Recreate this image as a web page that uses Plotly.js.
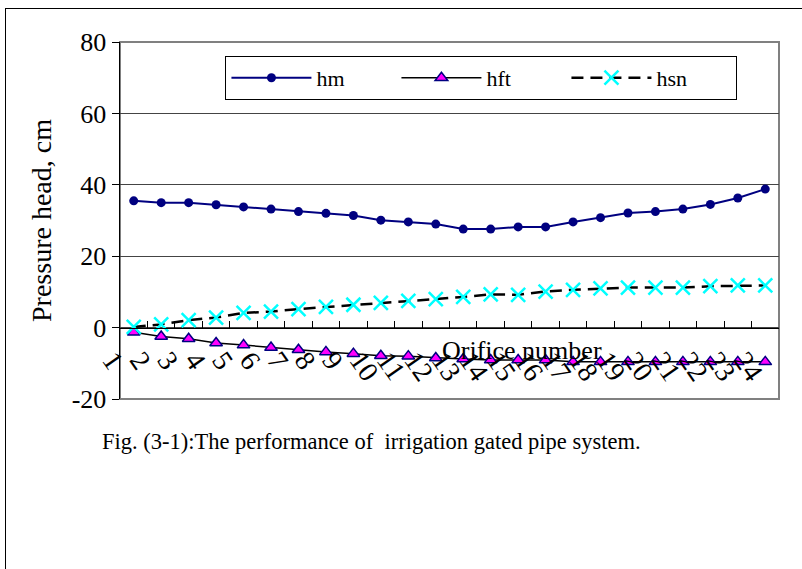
<!DOCTYPE html>
<html>
<head>
<meta charset="utf-8">
<script src="https://cdn.plot.ly/plotly-3.0.1.min.js"></script>
<style>
  html, body { margin: 0; padding: 0; background: #fff; }
  #wrap { position: relative; width: 802px; height: 569px; overflow: hidden; }
  #chart { position: absolute; left: 0; top: 0; width: 802px; height: 569px; }
  #frame { position: absolute; left: 5px; top: 8px; width: 900px; height: 700px;
           border-left: 1.5px solid #000; border-top: 1.5px solid #000; pointer-events: none; }
</style>
</head>
<body>
<div id="wrap">
  <div id="chart"></div>
  <div id="frame"></div>
</div>
<script>
// Orifice numbers (categories)
const orifices = ["1","2","3","4","5","6","7","8","9","10","11","12",
                  "13","14","15","16","17","18","19","20","21","22","23","24"];
// Pressure heads, cm
const hm  = [35.5, 35.0, 35.0, 34.4, 33.8, 33.2, 32.5, 32.0, 31.4, 30.1, 29.6, 29.0,
             27.6, 27.6, 28.2, 28.2, 29.6, 30.8, 32.1, 32.5, 33.2, 34.5, 36.3, 38.8];
const hft = [-1.3, -2.5, -3.1, -4.3, -4.9, -5.6, -6.2, -6.8, -7.3, -7.9, -8.0, -8.5,
             -8.8, -9.1, -9.1, -9.1, -9.6, -9.6, -9.6, -9.6, -9.6, -9.6, -9.6, -9.6];
const hsn = [0.2, 0.9, 2.1, 2.8, 4.1, 4.5, 5.2, 5.8, 6.4, 6.9, 7.5, 8.0,
             8.6, 9.3, 9.2, 10.1, 10.6, 11.0, 11.2, 11.2, 11.2, 11.6, 11.8, 11.8];
const yTicks = [-20, 0, 20, 40, 60, 80];

const serif = "Liberation Serif, Times New Roman, Times, serif";

const traces = [
  { x: orifices, y: hm, name: "hm", type: "scatter", mode: "lines+markers",
    line: { color: "#000080", width: 2 },
    marker: { symbol: "circle", size: 9, color: "#000080" } },
  { x: orifices, y: hft, name: "hft", type: "scatter", mode: "lines+markers",
    line: { color: "#000000", width: 1.5 },
    marker: { symbol: "triangle-up", size: 11, color: "#ff00ff",
              line: { color: "#000080", width: 1.5 } } },
  { x: orifices, y: hsn, name: "hsn", type: "scatter", mode: "lines+markers",
    line: { color: "#000000", width: 2.5, dash: "12px,7px" },
    marker: { symbol: "x-thin", size: 14, color: "#00ffff",
              line: { color: "#00ffff", width: 2.5 } } }
];

const layout = {
  width: 802, height: 569,
  margin: { l: 120, r: 23, t: 42, b: 170 },
  paper_bgcolor: "rgba(0,0,0,0)",
  plot_bgcolor: "#ffffff",
  font: { family: serif, color: "#000", size: 24 },
  showlegend: true,
  legend: {
    orientation: "h", x: 0.16, y: 0.961, xanchor: "left", yanchor: "top",
    bgcolor: "#ffffff", bordercolor: "#000", borderwidth: 1,
    font: { family: serif, size: 22, color: "#000" },
    entrywidth: 75, itemwidth: 80, traceorder: "normal"
  },
  xaxis: {
    type: "category", categoryorder: "array", categoryarray: orifices,
    range: [-0.5, orifices.length - 0.5], autorange: false,
    tickmode: "linear", tick0: 0, dtick: 1,
    anchor: "free", position: 0.2,
    showline: true, linecolor: "#000", linewidth: 1,
    ticks: "inside", ticklen: 7, tickcolor: "#000", tickson: "boundaries",
    showgrid: false, zeroline: false,
    tickangle: 55, ticklabelshift: -21, ticklabelstandoff: 4,
    tickfont: { family: serif, size: 28, color: "#000" },
    fixedrange: true
  },
  yaxis: {
    range: [-20, 80], tickvals: yTicks, ticktext: yTicks.map(String),
    showline: true, linecolor: "#000", linewidth: 1.5,
    ticks: "outside", ticklen: 7, tickcolor: "#000",
    showgrid: true, gridcolor: "#444", gridwidth: 1,
    zeroline: false,
    tickfont: { family: serif, size: 26, color: "#000" },
    title: { text: "Pressure head, cm", font: { family: serif, size: 28, color: "#000" }, standoff: 12 },
    fixedrange: true
  },
  shapes: [
    { type: "rect", xref: "paper", yref: "paper", x0: 0, x1: 1, y0: 0, y1: 1,
      line: { color: "#808080", width: 2 }, layer: "below" }
  ],
  annotations: [
    { text: "Orifice number", xref: "paper", yref: "paper", x: 0.61, y: 0.137,
      xanchor: "center", yanchor: "middle", showarrow: false,
      font: { family: serif, size: 26, color: "#000" } },
    { text: "Fig. (3-1):The performance of  irrigation gated pipe system.",
      xref: "paper", yref: "paper", x: -0.03, y: -0.12,
      xanchor: "left", yanchor: "middle", showarrow: false,
      font: { family: serif, size: 22.5, color: "#000" } }
  ]
};

Plotly.newPlot("chart", traces, layout, { displayModeBar: false, staticPlot: true });
</script>
</body>
</html>
